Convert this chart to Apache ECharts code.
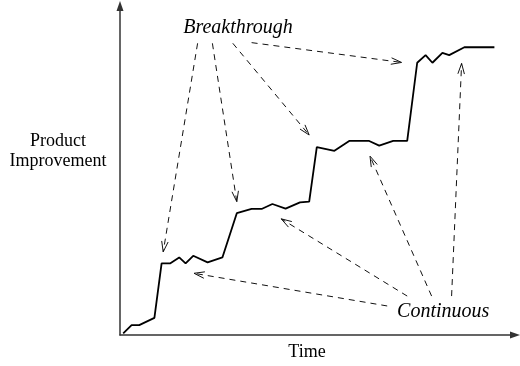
<!DOCTYPE html>
<html>
<head>
<meta charset="utf-8">
<script src="https://cdn.jsdelivr.net/npm/echarts@6/dist/echarts.min.js"></script>
<style>
  html, body { margin: 0; padding: 0; background: #fff; }
  #chart { width: 520px; height: 366px; }
</style>
</head>
<body>
<div id="chart"></div>
<script>
// improvement curve: [time, improvement] on a 0-100 scale
const timeValues = [0.8, 2.9, 4.8, 8.6, 10.4, 12.5, 14.8, 16.4, 18.3, 21.9, 25.6, 29.2, 32.9, 35.4, 38.1, 41.4, 45.0, 47.3, 49.2, 53.6, 57.3, 62.3, 64.8, 68.3, 71.8, 74.3, 76.4, 78.1, 80.6, 82.3, 86.1, 93.6]
const improvementValues = [0.5, 3.0, 3.0, 5.2, 21.7, 21.7, 23.5, 21.7, 24.0, 22.0, 23.5, 36.9, 38.2, 38.2, 39.7, 38.3, 40.2, 40.4, 56.9, 55.8, 58.8, 58.8, 57.4, 58.8, 58.8, 82.5, 84.8, 82.5, 85.5, 84.8, 87.2, 87.2]

// annotation arrows: [fromX, fromY, toX, toY]
const breakthroughArrows = [
  [19.4, 88.4, 10.8, 25.2],
  [23.1, 88.4, 29.2, 40.4],
  [28.2, 88.4, 47.3, 60.6],
  [32.9, 88.6, 70.4, 82.6]
]
const continuousArrows = [
  [66.8, 8.8, 18.5, 18.7],
  [71.8, 11.8, 40.3, 35.2],
  [77.9, 11.8, 62.5, 54.2],
  [82.9, 11.8, 85.4, 82.3]
]

const labelPoints = [
  { name: 'Breakthrough', value: [29.5, 93.0] },
  { name: 'Continuous', value: [80.8, 7.0] }
]

const serif = 'Liberation Serif'

const chart = echarts.init(document.getElementById('chart'), null, { renderer: 'canvas' })

const renderArrow = (params, api) => {
  const p1 = api.coord([api.value(0), api.value(1)])
  const p2 = api.coord([api.value(2), api.value(3)])
  const ang = Math.atan2(p2[1] - p1[1], p2[0] - p1[0])
  const len = 11
  const spread = 0.3
  const a1 = [p2[0] - len * Math.cos(ang - spread), p2[1] - len * Math.sin(ang - spread)]
  const a2 = [p2[0] - len * Math.cos(ang + spread), p2[1] - len * Math.sin(ang + spread)]
  const style = { stroke: '#111', lineWidth: 1, fill: null }
  return {
    type: 'group',
    children: [
      {
        type: 'line',
        shape: { x1: p1[0], y1: p1[1], x2: p2[0], y2: p2[1] },
        style: { ...style, lineDash: [6, 5] }
      },
      {
        type: 'polyline',
        shape: { points: [a1, p2, a2] },
        style: style
      }
    ]
  }
}

const axisStyle = {
  show: true,
  symbol: ['none', 'triangle'],
  symbolSize: [7, 10],
  lineStyle: { color: '#333', width: 1.5 }
}

const option = {
  animation: false,
  grid: { left: 120, right: 5, top: 6, bottom: 31 },
  xAxis: {
    type: 'value',
    min: 0,
    max: 98.75,
    axisLine: axisStyle,
    axisTick: { show: false },
    axisLabel: { show: false },
    splitLine: { show: false }
  },
  yAxis: {
    type: 'value',
    min: 0,
    max: 99.7,
    axisLine: axisStyle,
    axisTick: { show: false },
    axisLabel: { show: false },
    splitLine: { show: false }
  },
  graphic: [
    {
      type: 'text',
      x: 58,
      y: 151,
      style: {
        text: 'Product\nImprovement',
        align: 'center',
        verticalAlign: 'middle',
        fontFamily: serif,
        fontSize: 18,
        lineHeight: 20,
        fill: '#000'
      }
    },
    {
      type: 'text',
      x: 307,
      y: 352,
      style: {
        text: 'Time',
        align: 'center',
        verticalAlign: 'middle',
        fontFamily: serif,
        fontSize: 18,
        fill: '#000'
      }
    }
  ],
  series: [
    {
      type: 'line',
      data: timeValues.map((t, i) => [t, improvementValues[i]]),
      symbol: 'none',
      lineStyle: { color: '#000', width: 1.8 }
    },
    {
      type: 'custom',
      renderItem: renderArrow,
      data: breakthroughArrows.concat(continuousArrows),
      silent: true
    },
    {
      type: 'scatter',
      data: labelPoints,
      symbolSize: 0,
      itemStyle: { opacity: 1 },
      label: {
        show: true,
        position: 'inside',
        formatter: '{b}',
        color: '#000',
        fontFamily: serif,
        fontStyle: 'italic',
        fontSize: 20
      }
    }
  ]
}

chart.setOption(option)
window.addEventListener('resize', () => chart.resize())
</script>
</body>
</html>
